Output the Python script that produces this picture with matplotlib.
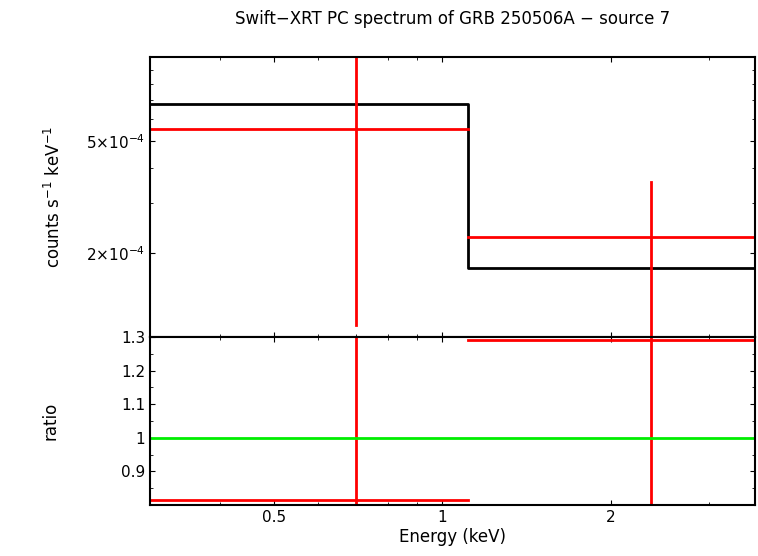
import matplotlib
matplotlib.use("Agg")
import matplotlib.pyplot as plt
from matplotlib.ticker import FixedLocator, NullFormatter

bin_lo = [0.3, 1.11]
bin_hi = [1.11, 3.62]
bin_c = [0.70, 2.36]
model = [6.77e-4, 1.77e-4]
data = [5.52e-4, 2.28e-4]
data_lo = [1.1e-4, 5e-5]
data_hi = [2e-3, 3.58e-4]
ratio = [0.815, 1.29]
ratio_lo = [0.5, 0.5]
ratio_hi = [2.0, 2.0]

fig = plt.figure(figsize=(7.58, 5.56), dpi=100)
ax1 = fig.add_axes([150/758, 1-337/556, 605/758, 280/556])
ax2 = fig.add_axes([150/758, 1-505/556, 605/758, 168/556], sharex=ax1)

xs = [bin_lo[0]] + bin_hi
ax1.step(xs, model + [model[-1]], where='post', color='black', lw=2)
for i in range(2):
    ax1.plot([bin_lo[i], bin_hi[i]], [data[i]]*2, color='red', lw=2)
    ax1.plot([bin_c[i]]*2, [data_lo[i], data_hi[i]], color='red', lw=2)
    ax2.plot([bin_lo[i], bin_hi[i]], [ratio[i]]*2, color='red', lw=2)
    ax2.plot([bin_c[i]]*2, [ratio_lo[i], ratio_hi[i]], color='red', lw=2)
ax2.axhline(1, color='#00ee00', lw=2)

for ax in (ax1, ax2):
    ax.set_xscale('log')
    ax.set_xlim(0.3, 3.62)
    for s in ax.spines.values():
        s.set_linewidth(1.5)
    ax.tick_params(direction='in', top=True, right=True, which='both', labelsize=11)
    ax.xaxis.set_major_locator(FixedLocator([0.5, 1, 2]))
    ax.xaxis.set_minor_locator(FixedLocator([0.3, 0.4, 0.6, 0.7, 0.8, 0.9, 3]))
    ax.xaxis.set_minor_formatter(NullFormatter())

ax1.set_yscale('log')
ax1.set_ylim(1e-4, 1e-3)
ax1.yaxis.set_major_locator(FixedLocator([2e-4, 5e-4]))
ax1.set_yticklabels(['2×10$^{-4}$', '5×10$^{-4}$'])
ax1.yaxis.set_minor_locator(FixedLocator([1e-4, 3e-4, 4e-4, 6e-4, 7e-4, 8e-4, 9e-4]))
ax1.yaxis.set_minor_formatter(NullFormatter())
ax1.tick_params(labelbottom=False)
ax1.set_ylabel('counts s$^{-1}$ keV$^{-1}$', fontsize=12, labelpad=16)
ax1.set_title('Swift−XRT PC spectrum of GRB 250506A − source 7', fontsize=12, pad=24)

ax2.set_ylim(0.8, 1.3)
ax2.set_yticks([0.9, 1, 1.1, 1.2, 1.3])
ax2.set_yticklabels(['0.9', '1', '1.1', '1.2', '1.3'])
ax2.yaxis.set_minor_locator(FixedLocator([0.85, 0.95, 1.05, 1.15, 1.25]))
ax2.set_xticklabels(['0.5', '1', '2'])
ax2.set_ylabel('ratio', fontsize=12, labelpad=44)
ax2.set_xlabel('Energy (keV)', fontsize=12, labelpad=2)

fig.savefig('out.png', dpi=100)
